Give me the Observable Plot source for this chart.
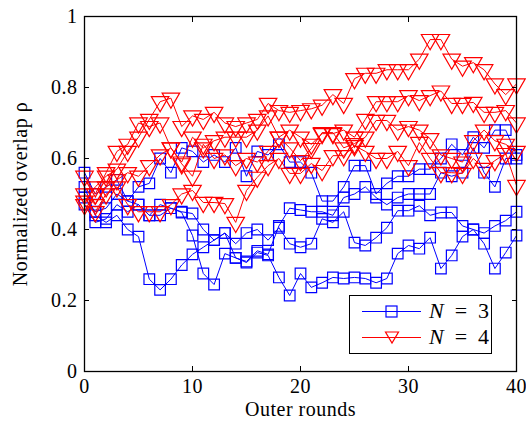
<!DOCTYPE html>
<html>
<head>
<meta charset="utf-8">
<script src="https://cdn.jsdelivr.net/npm/d3@7"></script>
<script src="https://cdn.jsdelivr.net/npm/@observablehq/plot@0.6"></script>
<style>
  html, body { margin: 0; padding: 0; background: #fff; }
  #wrap { position: relative; width: 526px; height: 427px; }
  #wrap svg text { letter-spacing: 0.5px; }
  #legend { position: absolute; left: 349px; top: 295px; width: 141px; height: 57px;
    border: 1px solid #000; background: #fff; font-family: "Liberation Serif", serif; font-size: 22px; }
  #legend .row { position: absolute; left: 0; height: 26px; }
  #legend .row span { position: absolute; left: 79px; top: -1px; white-space: nowrap; line-height: 26px; }
</style>
</head>
<body>
<div id="wrap"></div>
<script>
// ---------- data ----------
const rounds = d3.range(0, 41);
const xTicks = [0, 10, 20, 30, 40];
const yTicks = [0, 0.2, 0.4, 0.6, 0.8, 1];
const legendLabels = ["N = 3", "N = 4"];

// N = 3 (blue squares)
const blue1 = [0.56,0.50,0.52,0.54,0.48,0.52,0.53,0.60,0.56,0.63,0.62,0.59,0.61,0.59,0.63,0.55,0.62,0.61,0.64,0.59,0.59,0.56,0.48,0.48,0.52,0.58,0.58,0.50,0.53,0.55,0.55,0.57,0.57,0.60,0.64,0.61,0.66,0.63,0.68,0.68,0.61];
const blue2 = [0.52,0.44,0.42,0.44,0.40,0.38,0.26,0.23,0.26,0.30,0.33,0.35,0.37,0.39,0.36,0.39,0.40,0.37,0.405,0.36,0.35,0.36,0.43,0.42,0.45,0.363,0.355,0.377,0.405,0.453,0.453,0.467,0.44,0.448,0.448,0.41,0.40,0.39,0.41,0.425,0.45];
const blue3 = [0.47,0.42,0.43,0.47,0.45,0.47,0.44,0.47,0.46,0.448,0.383,0.276,0.245,0.332,0.32,0.307,0.335,0.327,0.265,0.214,0.276,0.237,0.25,0.265,0.262,0.265,0.262,0.25,0.262,0.332,0.355,0.346,0.377,0.29,0.327,0.38,0.40,0.36,0.29,0.335,0.383];
const blue4 = [0.49,0.45,0.46,0.50,0.48,0.47,0.44,0.44,0.46,0.45,0.445,0.40,0.37,0.39,0.32,0.31,0.34,0.33,0.41,0.46,0.455,0.45,0.45,0.44,0.49,0.50,0.52,0.49,0.47,0.49,0.50,0.50,0.50,0.56,0.55,0.56,0.63,0.56,0.52,0.60,0.60];

// N = 4 (red triangles)
const red1 = [0.48,0.52,0.55,0.57,0.62,0.66,0.71,0.76,0.77,0.69,0.72,0.71,0.73,0.70,0.69,0.70,0.71,0.755,0.735,0.73,0.735,0.74,0.75,0.78,0.755,0.825,0.84,0.84,0.85,0.85,0.85,0.88,0.935,0.935,0.88,0.86,0.87,0.85,0.81,0.78,0.81];
const red2 = [0.55,0.50,0.56,0.62,0.64,0.70,0.69,0.70,0.63,0.59,0.66,0.63,0.65,0.66,0.66,0.66,0.68,0.72,0.66,0.68,0.66,0.64,0.67,0.67,0.68,0.66,0.71,0.76,0.76,0.76,0.777,0.763,0.777,0.79,0.755,0.755,0.758,0.73,0.73,0.735,0.70];
const red3 = [0.50,0.47,0.52,0.54,0.56,0.55,0.58,0.61,0.63,0.585,0.55,0.64,0.60,0.61,0.58,0.60,0.59,0.62,0.66,0.63,0.594,0.628,0.673,0.673,0.63,0.642,0.66,0.707,0.707,0.68,0.69,0.68,0.656,0.61,0.60,0.59,0.65,0.68,0.65,0.64,0.62];
const red4 = [0.47,0.45,0.50,0.52,0.47,0.45,0.45,0.45,0.47,0.50,0.51,0.476,0.476,0.473,0.42,0.51,0.547,0.58,0.60,0.558,0.558,0.586,0.566,0.608,0.608,0.636,0.62,0.60,0.60,0.62,0.58,0.645,0.60,0.56,0.56,0.558,0.60,0.572,0.594,0.614,0.524];

// ---------- build tables ----------
function table(series, name) {
  return series.flatMap((vals, k) => vals.map((v, i) => ({x: rounds[i], y: v, s: name + k})));
}
const blueData = table([blue1, blue2, blue3, blue4], "b");
const redData = table([red1, red2, red3, red4], "r");

const BLUE = "#0000ff", RED = "#ff0000";

const chart = Plot.plot({
  width: 526,
  height: 427,
  marginTop: 16,
  marginBottom: 56,
  marginLeft: 84,
  marginRight: 10,
  style: {fontFamily: "'Liberation Serif', serif", fontSize: "20px", background: "#fff", color: "#000"},
  x: {domain: [0, 40]},
  y: {domain: [0, 1]},
  marks: [
    Plot.line(blueData, {x: "x", y: "y", z: "s", stroke: BLUE, strokeWidth: 1}),
    Plot.dot(blueData, {x: "x", y: "y", symbol: "square", r: 6, stroke: BLUE, strokeWidth: 1.2, fill: "none"}),
    Plot.line(redData, {x: "x", y: "y", z: "s", stroke: RED, strokeWidth: 1}),
    Plot.dot(redData, {x: "x", y: "y", symbol: "triangle", rotate: 180, r: 6.5, stroke: RED, strokeWidth: 1.2, fill: "none"}),
    Plot.frame({stroke: "#000", strokeWidth: 1.3}),
    Plot.axisX({ticks: xTicks, tickSize: -5, tickPadding: 12, tickFormat: d => String(d),
      label: "Outer rounds", labelAnchor: "center", labelArrow: "none", labelOffset: 44}),
    Plot.axisX({anchor: "top", ticks: xTicks, tickSize: -5, tickFormat: () => "", label: null}),
    Plot.axisY({ticks: yTicks, tickSize: -5, tickPadding: 12, tickFormat: d => String(d),
      label: "Normalized overlap ρ", labelAnchor: "center", labelArrow: "none", labelOffset: 72}),
    Plot.axisY({anchor: "right", ticks: yTicks, tickSize: -5, tickFormat: () => "", label: null})
  ]
});

const wrap = document.getElementById("wrap");
wrap.appendChild(chart);

// legend
const legend = document.createElement("div");
legend.id = "legend";
const items = [
  {label: legendLabels[0], color: BLUE, sym: "square"},
  {label: legendLabels[1], color: RED, sym: "tri"}
];
items.forEach((it, i) => {
  const row = document.createElement("div");
  row.className = "row";
  row.style.top = (3 + i * 26) + "px";
  row.style.width = "141px";
  const icon = it.sym === "square"
    ? `<rect x="36" y="7" width="11" height="11" fill="none" stroke="${it.color}" stroke-width="1.2"/>`
    : `<path d="M35.5,7 L48.5,7 L42,18 Z" fill="none" stroke="${it.color}" stroke-width="1.2"/>`;
  const parts = it.label.split(" = ");
  row.innerHTML = `<svg width="80" height="26" style="position:absolute;left:0;top:0">
      <line x1="12" x2="71" y1="12.5" y2="12.5" stroke="${it.color}" stroke-width="1"/>${icon}</svg>
      <span><i>${parts[0]}</i>&ensp;=&ensp;${parts[1]}</span>`;
  legend.appendChild(row);
});
wrap.appendChild(legend);
</script>
</body>
</html>
